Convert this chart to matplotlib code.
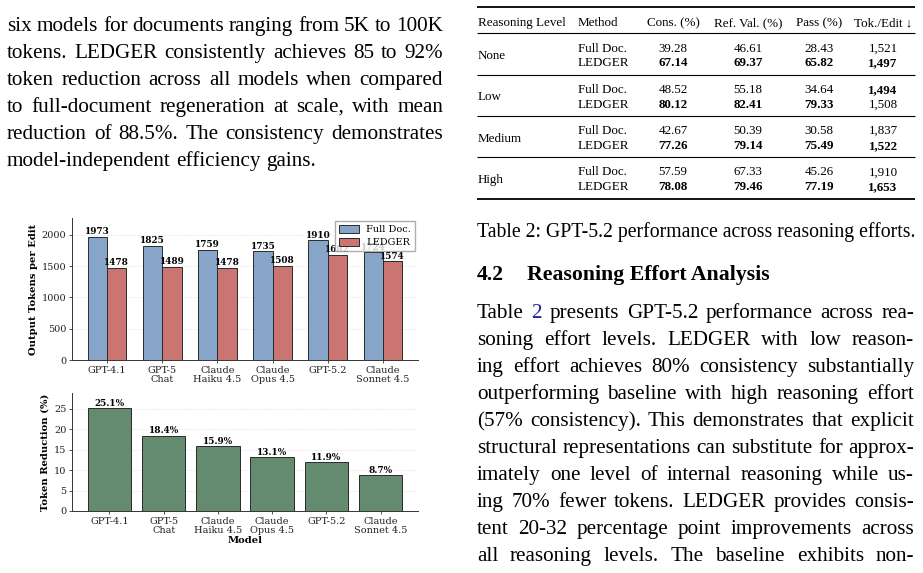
import matplotlib
matplotlib.use("Agg")
import matplotlib.pyplot as plt
import numpy as np

W, H = 923, 573

# ---------------- chart data ----------------
models = ["GPT-4.1", "GPT-5\nChat", "Claude\nHaiku 4.5", "Claude\nOpus 4.5", "GPT-5.2", "Claude\nSonnet 4.5"]
full_doc_tokens = [1973, 1825, 1759, 1735, 1910, 1724]
ledger_tokens = [1478, 1489, 1478, 1508, 1682, 1574]
token_reduction = [25.1, 18.4, 15.9, 13.1, 11.9, 8.7]

# ---------------- table data ----------------
table_cols = ["Reasoning Level", "Method", "Cons. (%)", "Ref. Val. (%)", "Pass (%)", "Tok./Edit \u2193"]
levels = ["None", "Low", "Medium", "High"]
methods = ["Full Doc.", "LEDGER"]
cons_full = [39.28, 48.52, 42.67, 57.59]
cons_ledger = [67.14, 80.12, 77.26, 78.08]
refval_full = [46.61, 55.18, 50.39, 67.33]
refval_ledger = [69.37, 82.41, 79.14, 79.46]
pass_full = [28.43, 34.64, 30.58, 45.26]
pass_ledger = [65.82, 79.33, 75.49, 77.19]
tok_full = [1521, 1494, 1837, 1910]
tok_ledger = [1497, 1508, 1522, 1653]

# ---------------- page text ----------------
left_lines = [
    "six models for documents ranging from 5K to 100K",
    "tokens. LEDGER consistently achieves 85 to 92%",
    "token reduction across all models when compared",
    "to full-document regeneration at scale, with mean",
    "reduction of 88.5%. The consistency demonstrates",
    "model-independent efficiency gains.",
]
caption = "Table 2: GPT-5.2 performance across reasoning efforts."
heading_num = "4.2"
heading = "Reasoning Effort Analysis"
right_lines = [
    "Table 2 presents GPT-5.2 performance across rea-",
    "soning effort levels. LEDGER with low reason-",
    "ing effort achieves 80% consistency substantially",
    "outperforming baseline with high reasoning effort",
    "(57% consistency). This demonstrates that explicit",
    "structural representations can substitute for approx-",
    "imately one level of internal reasoning while us-",
    "ing 70% fewer tokens. LEDGER provides consis-",
    "tent 20-32 percentage point improvements across",
    "all reasoning levels. The baseline exhibits non-",
]

SERIF = ["Liberation Serif", "DejaVu Serif"]
plt.rcParams["font.family"] = ["DejaVu Serif"]

fig = plt.figure(figsize=(W / 100, H / 100), dpi=100)
bg = fig.add_axes([0, 0, 1, 1], zorder=0)
bg.set_xlim(0, W)
bg.set_ylim(H, 0)
bg.axis("off")
renderer = fig.canvas.get_renderer()


def justify(line, x0, x1, y, size, just=True, link_words=(), weight="normal"):
    words = line.split(" ")
    texts = []
    for w in words:
        col = "#2020a0" if w in link_words else "black"
        texts.append(bg.text(0, y, w, fontsize=size, family=SERIF, color=col,
                             ha="left", va="baseline", fontweight=weight))
    widths = [t.get_window_extent(renderer).width for t in texts]
    if just and len(words) > 1:
        gap = (x1 - x0 - sum(widths)) / (len(words) - 1)
    else:
        gap = size * 100 / 72 * 0.25
    x = x0
    for t, w in zip(texts, widths):
        t.set_x(x)
        x += w + gap


BODY = 15.2
# left column text
for i, ln in enumerate(left_lines):
    justify(ln, 7, 443, 31 + 27 * i, BODY, just=(i < len(left_lines) - 1))

# right column paragraph
for i, ln in enumerate(right_lines):
    justify(ln, 477, 914, 318 + 27 * i, BODY, link_words=("2",) if i == 0 else ())

# caption and heading
bg.text(477, 237, caption, fontsize=14.2, family=SERIF, ha="left", va="baseline")
bg.text(477, 280, heading_num, fontsize=15.7, family=SERIF, fontweight="bold", ha="left", va="baseline")
bg.text(527, 280, heading, fontsize=15.7, family=SERIF, fontweight="bold", ha="left", va="baseline")

# ---------------- table ----------------
TS = 9.4
tx0, tx1 = 477, 915
for yy, lw in [(7, 1.3), (33, 0.8), (75, 0.8), (116, 0.8), (157, 0.8), (199, 1.3)]:
    bg.plot([tx0, tx1], [yy, yy], color="black", lw=lw, solid_capstyle="butt")

col_x = [478, 578, 673, 748, 819, 883]
col_ha = ["left", "left", "center", "center", "center", "center"]
for cx, ha, name in zip(col_x, col_ha, table_cols):
    bg.text(cx, 26, name, fontsize=TS, family=SERIF, ha=ha, va="baseline")

group_pitch = 41.3
for g, lev in enumerate(levels):
    yb = 51.5 + g * group_pitch
    rows = [
        [cons_full[g], refval_full[g], pass_full[g], tok_full[g]],
        [cons_ledger[g], refval_ledger[g], pass_ledger[g], tok_ledger[g]],
    ]
    bg.text(col_x[0], yb + 7.5, lev, fontsize=TS, family=SERIF, ha="left", va="baseline")
    for r in range(2):
        y = yb + r * 15
        bg.text(col_x[1], y, methods[r], fontsize=TS, family=SERIF, ha="left", va="baseline")
        for c in range(4):
            v = rows[r][c]
            other = rows[1 - r][c]
            better = (v < other) if c == 3 else (v > other)
            s = f"{v:,}" if c == 3 else f"{v:.2f}"
            bg.text(col_x[2 + c], y, s, fontsize=TS, family=SERIF, ha="center", va="baseline",
                    fontweight="bold" if better else "normal")

# ---------------- charts ----------------
c_full = "#86A5C8"
c_led = "#CB7572"
c_green = "#648A70"
edge = "#2a2a2a"
TICK = 7.0
VAL = 6.4
LAB = 7.2

ax1 = fig.add_axes([72 / W, 1 - 360 / H, (418 - 72) / W, (360 - 218) / H], zorder=2)
ax2 = fig.add_axes([72 / W, 1 - 511 / H, (418 - 72) / W, (511 - 393) / H], zorder=2)

x = np.arange(len(models))
w = 0.35
b1 = ax1.bar(x - w / 2, full_doc_tokens, w, color=c_full, edgecolor=edge, linewidth=0.7, label="Full Doc.")
b2 = ax1.bar(x + w / 2, ledger_tokens, w, color=c_led, edgecolor=edge, linewidth=0.7, label="LEDGER")
for bars, vals in [(b1, full_doc_tokens), (b2, ledger_tokens)]:
    for bar, v in zip(bars, vals):
        ax1.text(bar.get_x() + bar.get_width() / 2, v + 8, f"{v}", ha="center", va="bottom",
                 fontsize=VAL, fontweight="bold")
ax1.set_ylim(0, max(full_doc_tokens) * 1.15)
ax1.set_ylabel("Output Tokens per Edit", fontsize=LAB, fontweight="bold", labelpad=3)
ax1.set_xticks(x)
ax1.set_xticklabels(models, linespacing=1.0)
ax1.legend(loc="upper right", fontsize=7.0, framealpha=0.8, edgecolor="#999999",
           fancybox=False, handlelength=2.0, handleheight=0.9, borderpad=0.4,
           labelspacing=0.35, borderaxespad=0.3)

bars3 = ax2.bar(x, token_reduction, 0.8, color=c_green, edgecolor=edge, linewidth=0.7)
for bar, v in zip(bars3, token_reduction):
    ax2.text(bar.get_x() + bar.get_width() / 2, v + 0.12, f"{v}%", ha="center", va="bottom",
             fontsize=VAL, fontweight="bold")
ax2.set_ylim(0, max(token_reduction) * 1.15)
ax2.set_ylabel("Token Reduction (%)", fontsize=LAB, fontweight="bold", labelpad=3)
ax2.set_xlabel("Model", fontsize=LAB, fontweight="bold", labelpad=1)
ax2.set_xticks(x)
ax2.set_xticklabels(models, linespacing=1.0)
ax2.set_yticks([0, 5, 10, 15, 20, 25])

for ax in (ax1, ax2):
    ax.set_facecolor("none")
    for s in ("top", "right"):
        ax.spines[s].set_visible(False)
    for s in ("left", "bottom"):
        ax.spines[s].set_linewidth(0.7)
        ax.spines[s].set_color("#333333")
    ax.tick_params(labelsize=TICK, length=2.5, width=0.6, pad=1.5, colors="#333333", labelcolor="#222222")
    ax.yaxis.grid(True, linestyle="--", linewidth=0.4, alpha=0.25, color="#888888")
    ax.set_axisbelow(True)

fig.savefig("out.png", dpi=100)
